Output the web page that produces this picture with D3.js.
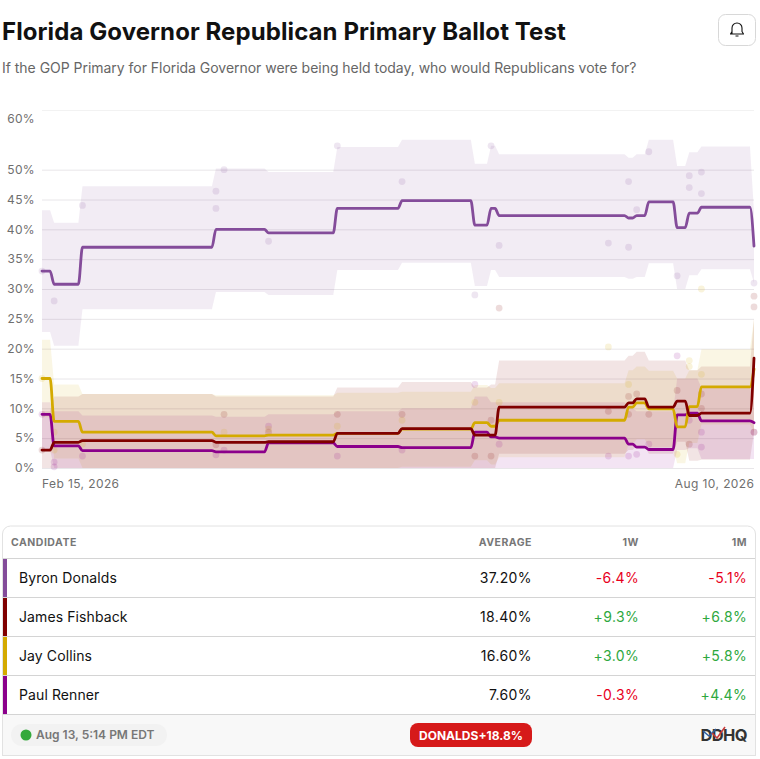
<!DOCTYPE html>
<html><head><meta charset="utf-8">
<script src="https://cdn.jsdelivr.net/npm/d3@7"></script>
<style>
html,body{margin:0;padding:0;background:#fff;}
svg{display:block;font-family:Inter,sans-serif;}
</style></head><body><svg id="c" width="760" height="759"></svg>
<script>
const startDate = new Date(2026,1,15);
const dayOffsets = [0,2,3,9,10,42,43,55,56,72,73,88,89,106,107,110,111,112,113,144,145,146,147,149,150,156,157,159,160,162,163,175,176];
const tickValues = [0,5,10,15,20,25,30,35,40,45,50,60];
const candidates = ["Byron Donalds","James Fishback","Jay Collins","Paul Renner"];
const colors = ["#844c9a","#800000","#d4aa00","#8b008b"];
const averages = ["37.20%","18.40%","16.60%","7.60%"];
const week = ["-6.4%","+9.3%","+3.0%","-0.3%"];
const month = ["-5.1%","+6.8%","+5.8%","+4.4%"];

const donalds = [33,33,30.8,30.8,37,37,40,40,39.4,39.4,43.5,43.5,44.8,44.8,40.7,40.7,43.5,43.5,42.3,42.3,41.9,41.9,42.3,42.3,44.6,44.6,40.3,40.3,42.7,42.7,43.7,43.7,37.2];
const fishback = [3,3,4.3,4.3,4.6,4.6,4.3,4.3,4.4,4.4,5.8,5.8,6.6,6.6,5.5,5.5,5.5,5.5,10.2,10.2,10.9,10.9,11.6,11.6,10.2,10.2,11.2,11.2,8.8,8.8,9.2,9.2,18.4];
const collins = [15,15,7.8,7.8,6,6,5.4,5.4,5.5,5.5,5.8,5.8,6.5,6.5,7.6,7.6,7,7,8,8,10.2,10.2,10.9,10.9,9.9,9.9,6.9,6.9,10.3,10.3,13.6,13.6,16.6];
const renner = [9,9,3.7,3.7,2.9,2.9,2.7,2.7,4.2,4.2,3.6,3.6,3.4,3.4,6,6,5.2,5.2,5,5,4,4,3.5,3.5,3.1,3.1,8.9,8.9,9.2,9.2,7.9,7.9,7.6];

const donaldsHi = [43.2,43.2,41.1,41.1,47.2,47.2,50.2,50.2,49.6,49.6,53.8,53.8,55,55,51,51,54,54,52.6,52.6,52,52,52.6,52.6,55,55,50.6,50.6,52.9,52.9,53.9,53.9,43];
const donaldsLo = [22.8,22.8,20.5,20.5,26.6,26.6,29.5,29.5,29,29,33.2,33.2,34.4,34.4,30.5,30.5,33.2,33.2,32,32,31.7,31.7,32,32,34.3,34.3,30,30,32.3,32.3,33.3,33.3,31];
const fishbackHi = [9.5,9.5,12,12,12.4,12.4,12,12,12,12,13.5,13.5,14.4,14.4,13.5,13.5,14,14,18,18,18.8,18.8,19.5,19.5,18,18,18,18,16.4,16.4,17,17,25];
const fishbackLo = [0,0,0,0,0,0,0,0,0,0,0,0,0,0,0,0,0,0,2.4,2.4,3,3,3.7,3.7,2.4,2.4,4.4,4.4,1.2,1.2,1.4,1.4,6];
const collinsHi = [21.5,21.5,14,14,12.4,12.4,12.2,12.2,12.2,12.2,12.6,12.6,12.8,12.8,13.9,13.9,13.4,13.4,14.2,14.2,16.4,16.4,17,17,16.3,16.3,15,15,16.4,16.4,19.9,19.9,25];
const collinsLo = [8.5,8.5,1.6,1.6,0,0,0,0,0,0,0,0,0.2,0.2,1.3,1.3,0.6,0.6,1.8,1.8,4,4,4.8,4.8,3.5,3.5,0.8,0.8,4.2,4.2,7.3,7.3,6];
const rennerHi = [11,11,9.5,9.5,8.8,8.8,8.6,8.6,9,9,9.5,9.5,10,10,12,12,11,11,11,11,10,10,9.5,9.5,9.5,9.5,15,15,15,15,13.5,13.5,13.5];
const rennerLo = [3,3,0,0,0,0,0,0,0,0,0,0,0,0,0,0,0,0,0,0,0,0,0,0,0,0,3,3,3.3,3.3,1.5,1.5,1.5];

const donaldsPolls = [[0,33],[3,28],[10,44],[43,46.4],[43,43.5],[45,50],[56,38],[73,54],[89,48],[107,29],[111,54],[113,37.3],[140,37.7],[145,48],[145,37],[147,43.3],[150,53],[157,32.2],[160,49],[160,47],[163,49.6],[163,46],[176,31]];
const fishbackPolls = [[0,3],[43,3.9],[45,9],[56,6],[73,9],[89,9],[107,2],[111,2],[111,8],[113,26.8],[140,9.5],[145,9],[145,12],[147,12.4],[150,9],[157,13],[160,4],[163,12.4],[163,10],[176,28.8],[176,27],[176,6]];
const collinsPolls = [[0,15],[3,6],[3,3],[10,4],[45,6],[56,6.5],[73,7],[89,8],[107,11],[113,11],[140,20.3],[145,14],[160,18],[160,17],[163,15.7],[157,2.3],[163,30]];
const rennerPolls = [[0,9],[3,1],[3,0.2],[10,2],[43,2.2],[45,3],[56,7],[73,2],[89,3],[107,14],[113,4],[140,2],[145,2],[147,2.3],[150,4],[157,18.8],[160,8],[163,6],[163,3.5],[176,6]];

const values = [donalds,fishback,collins,renner];
const upper = [donaldsHi,fishbackHi,collinsHi,rennerHi];
const lower = [donaldsLo,fishbackLo,collinsLo,rennerLo];
const polls = [donaldsPolls,fishbackPolls,collinsPolls,rennerPolls];

const svg = d3.select("#c");
const toDate = d => d3.timeDay.offset(startDate,d);
const x = d3.scaleTime().domain([toDate(0),toDate(176)]).range([42,754]);
const y = d3.scaleLinear().domain([0,60]).range([468,110]);

// title
svg.append("text").attr("x",2).attr("y",40).attr("font-size",24).attr("font-weight",700).attr("letter-spacing",.085).attr("fill","#111").text("Florida Governor Republican Primary Ballot Test");
svg.append("text").attr("x",2).attr("y",73).attr("font-size",14).attr("letter-spacing",-.03).attr("fill","#666").text("If the GOP Primary for Florida Governor were being held today, who would Republicans vote for?");
// bell
svg.append("rect").attr("x",718.5).attr("y",14.5).attr("width",37).attr("height",31).attr("rx",7).attr("fill","#fff").attr("stroke","#d8d8d8");
svg.append("path").attr("d","M732 34 V28 a5 5 0 0 1 10 0 V31.5 L743.5 34 H730.5 L732 31.5 M735.5 36 h3").attr("fill","none").attr("stroke","#111").attr("stroke-width",1.1).attr("stroke-linejoin","round");

// grid and ticks
svg.append("g").selectAll("line").data(tickValues).join("line")
 .attr("x1",42).attr("x2",754).attr("y1",d=>y(d)+.5).attr("y2",d=>y(d)+.5)
 .attr("stroke",d=>d===60?"#f2f2f2":"#e8e6e9").attr("stroke-width",1);
svg.append("g").selectAll("text").data(tickValues).join("text")
 .attr("x",35).attr("y",d=>d===60?122.5:(d===0?472:y(d)+4.3)).attr("text-anchor","end")
 .attr("font-size",12).attr("letter-spacing",.35).attr("fill","#6f6f6f").text(d=>d+"%");
svg.append("text").attr("x",42).attr("y",487.5).attr("font-size",12).attr("letter-spacing",.4).attr("fill","#6f6f6f").text(d3.timeFormat("%b %-d, %Y")(toDate(0)));
svg.append("text").attr("x",754.4).attr("y",487.5).attr("text-anchor","end").attr("font-size",12).attr("letter-spacing",.4).attr("fill","#6f6f6f").text("Aug 10, 2026");

// bands
const area = d3.area().x(d=>x(toDate(d.day))).y0(d=>y(d.lo)).y1(d=>y(d.hi));
const order = [3,2,1,0];
order.forEach(i=>{
  const rows = dayOffsets.map((day,k)=>({day,hi:upper[i][k],lo:lower[i][k]}));
  svg.append("path").datum(rows).attr("d",area).attr("fill",colors[i]).attr("fill-opacity",.105);
});
// polls
order.forEach(i=>{
  svg.append("g").selectAll("circle").data(polls[i]).join("circle")
   .attr("cx",d=>x(toDate(d[0]))).attr("cy",d=>y(d[1])).attr("r",3.4).attr("fill",colors[i]).attr("fill-opacity",.14);
});
// lines
const line = d3.line().x(d=>x(toDate(d[0]))).y(d=>y(d[1])).curve(d3.curveMonotoneX);
order.forEach(i=>{
  svg.append("path").datum(dayOffsets.map((day,k)=>[day,values[i][k]])).attr("d",line)
   .attr("fill","none").attr("stroke",colors[i]).attr("stroke-width",2.8).attr("stroke-linejoin","round").attr("stroke-linecap","round");
});

// table
const rowY = [558,597,636,675,714];
svg.append("rect").attr("x",2.5).attr("y",715).attr("width",753).attr("height",40).attr("fill","#f8f8f8");
svg.append("path").attr("d","M2.5 755.5 V534 a8 8 0 0 1 8 -8 H747.5 a8 8 0 0 1 8 8 V755.5").attr("fill","none").attr("stroke","#e2e2e2");
svg.append("line").attr("x1",2).attr("x2",756).attr("y1",755.5).attr("y2",755.5).attr("stroke","#e2e2e2");
svg.append("g").selectAll("line").data(rowY).join("line").attr("x1",3).attr("x2",755).attr("y1",d=>d+.5).attr("y2",d=>d+.5).attr("stroke","#d4d4d4");
const head = [["CANDIDATE",11,"start"],["AVERAGE",532,"end"],["1W",639,"end"],["1M",747,"end"]];
svg.append("g").selectAll("text").data(head).join("text").attr("x",d=>d[1]).attr("y",546).attr("text-anchor",d=>d[2])
 .attr("font-size",10.5).attr("font-weight",700).attr("letter-spacing",.5).attr("fill","#777").text(d=>d[0]);
candidates.forEach((c,i)=>{
  const top = rowY[i], base = top+25;
  svg.append("rect").attr("x",3).attr("y",top+1).attr("width",4).attr("height",38).attr("fill",colors[i]);
  svg.append("text").attr("x",19).attr("y",base).attr("font-size",14).attr("font-weight",400).attr("letter-spacing",.1).attr("fill","#111").text(c);
  svg.append("text").attr("x",532).attr("y",base).attr("text-anchor","end").attr("font-size",14).attr("letter-spacing",.4).attr("fill","#111").text(averages[i]);
  [[week[i],639.2],[month[i],747.2]].forEach(([t,px])=>{
    svg.append("text").attr("x",px).attr("y",base).attr("text-anchor","end").attr("font-size",14).attr("letter-spacing",.4)
     .attr("fill",t[0]==="-"?"#e8001c":"#2ea83e").text(t);
  });
});
// footer
svg.append("rect").attr("x",11).attr("y",724).attr("width",156).attr("height",22).attr("rx",11).attr("fill","#f2f2f2");
svg.append("circle").attr("cx",26).attr("cy",735).attr("r",5.5).attr("fill","#34a93c");
svg.append("text").attr("x",36).attr("y",739).attr("font-size",12).attr("font-weight",600).attr("fill","#777").text("Aug 13, 5:14 PM EDT");
svg.append("rect").attr("x",410).attr("y",723).attr("width",122).attr("height",24).attr("rx",8).attr("fill","#d61a1a");
svg.append("text").attr("x",471).attr("y",739.5).attr("text-anchor","middle").attr("font-size",12).attr("font-weight",700).attr("fill","#fff").text("DONALDS+18.8%");
svg.append("text").attr("x",747).attr("y",741).attr("text-anchor","end").attr("font-size",16.5).attr("font-weight",700).attr("letter-spacing",-.6).attr("fill","#333").text("DDHQ");
svg.append("path").attr("d","M703 731 L709 736 L716 729").attr("fill","none").attr("stroke","#2f5f9e").attr("stroke-width",1.5);
svg.append("path").attr("d","M712 733 L717 738 L725 727").attr("fill","none").attr("stroke","#c83a3a").attr("stroke-width",1.5);
</script></body></html>
